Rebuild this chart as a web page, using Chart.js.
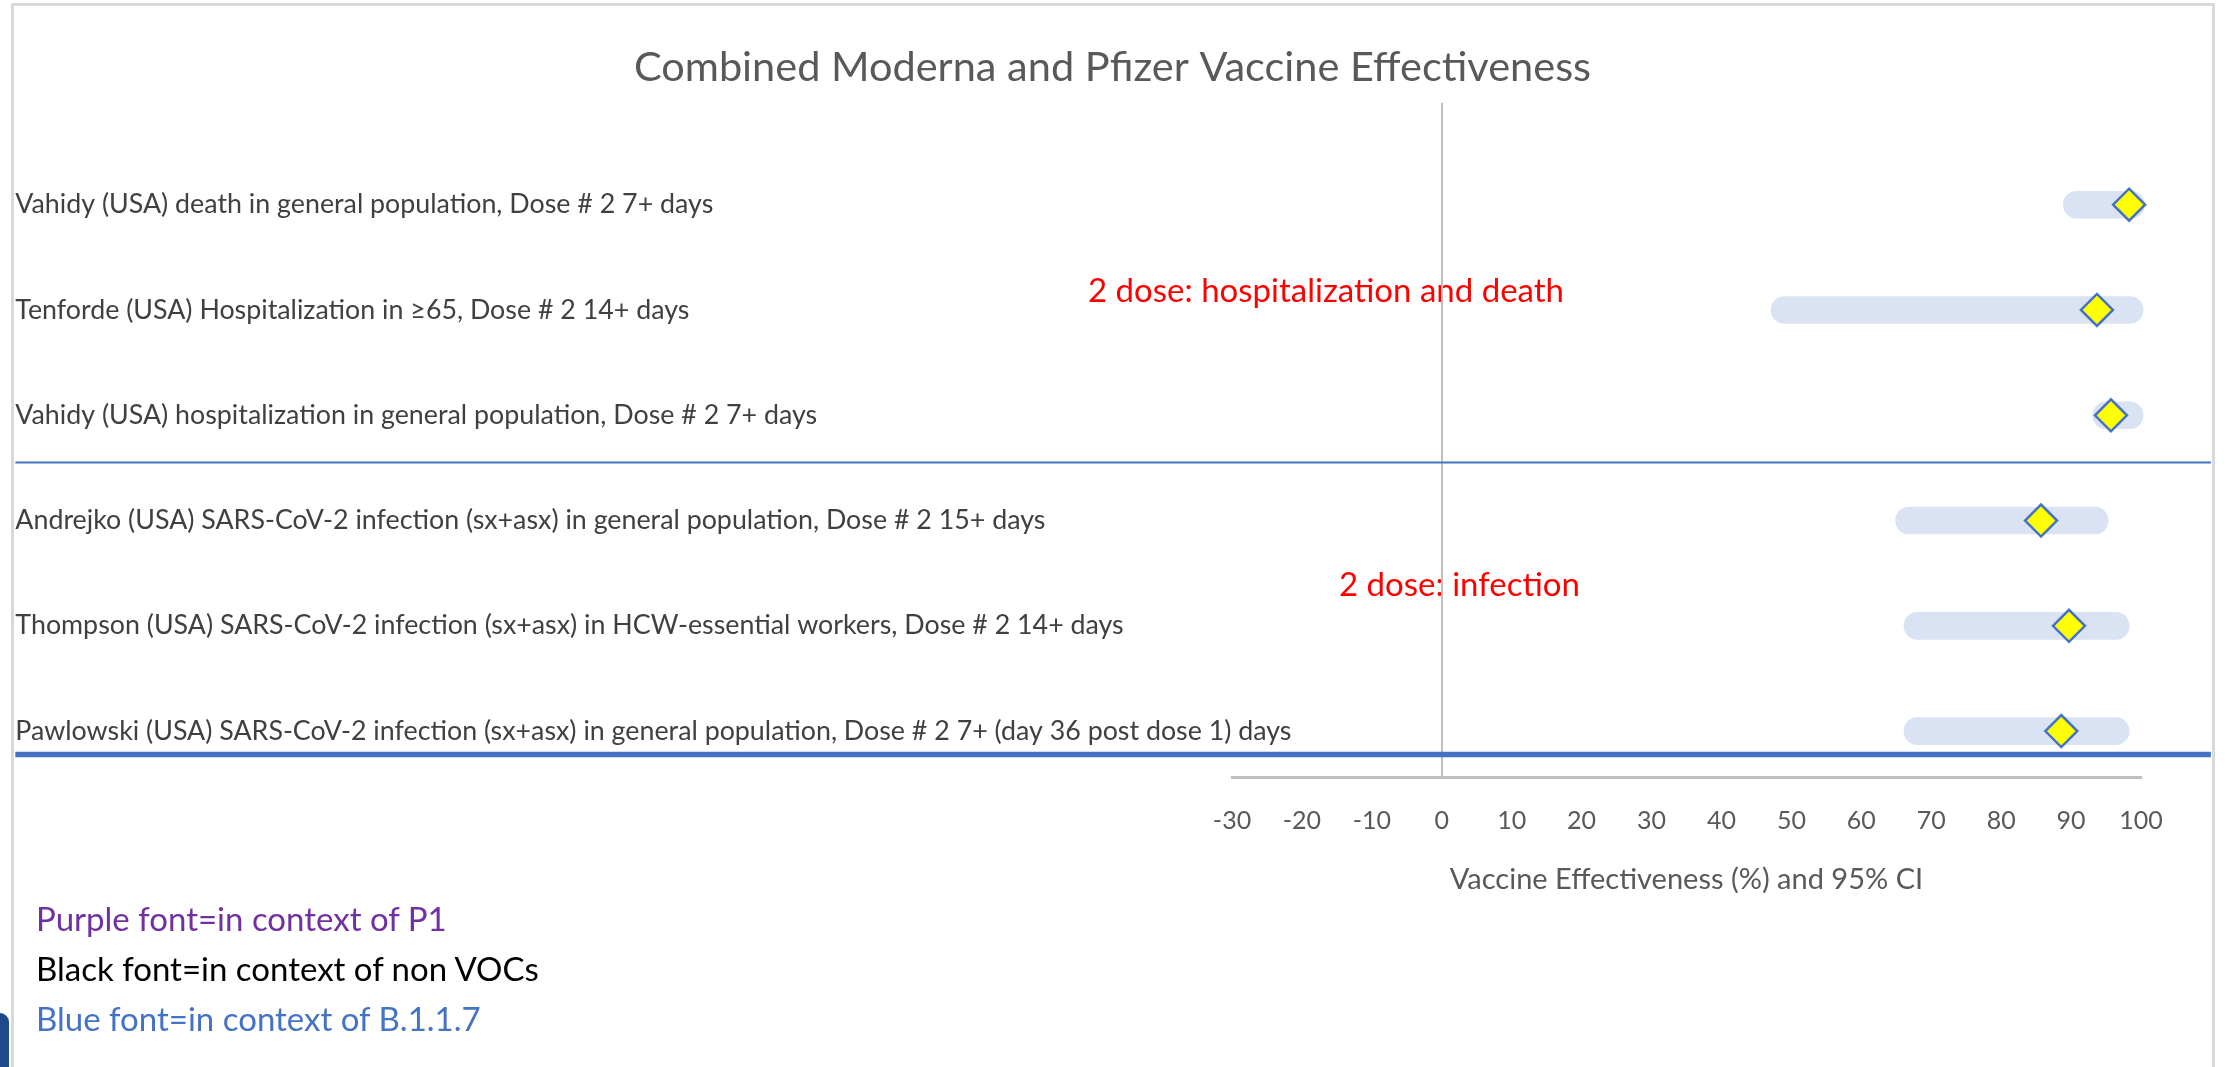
<!DOCTYPE html>
<html lang="en">
<head>
    <meta charset="UTF-8">
    <title>Combined Moderna and Pfizer Vaccine Effectiveness</title>
    <script src="https://cdn.jsdelivr.net/npm/chart.js"></script>
    <style>
        * {
            margin: 0;
            padding: 0;
            box-sizing: border-box;
        }

        html, body {
            width: 2225px;
            height: 1067px;
            overflow: hidden;
            background: #fff;
        }

        .frame {
            position: absolute;
            left: 11px;
            top: 3px;
            width: 2204px;
            height: 1200px;
            border: 3px solid #d9d9d9;
        }

        .chart-box {
            position: absolute;
            left: 0;
            top: 0;
            width: 2225px;
            height: 1067px;
        }

        .notes {
            position: absolute;
            left: 36px;
            top: 893px;
            font-family: Lato, sans-serif;
            font-size: 33px;
            line-height: 50px;
        }

        .tab {
            position: absolute;
            left: 0;
            top: 1013px;
            width: 9px;
            height: 80px;
            background: #1f4a8a;
            border-top-right-radius: 14px;
        }
    </style>
</head>
<body>
    <div class="frame"></div>
    <div class="chart-box">
        <canvas id="myChart"></canvas>
    </div>
    <div class="notes">
        <div style="color:#7030a0">Purple font=in context of P1</div>
        <div style="color:#000000">Black font=in context of non VOCs</div>
        <div style="color:#4472c4">Blue font=in context of B.1.1.7</div>
    </div>
    <div class="tab"></div>

    <script>
        // studies, top to bottom
        var studies = [
            'Vahidy (USA) death in general population, Dose # 2 7+ days',
            'Tenforde (USA) Hospitalization in \u226565, Dose # 2 14+ days',
            'Vahidy (USA) hospitalization in general population, Dose # 2 7+ days',
            'Andrejko (USA) SARS-CoV-2 infection (sx+asx) in general population, Dose # 2 15+ days',
            'Thompson (USA) SARS-CoV-2 infection (sx+asx) in HCW-essential workers, Dose # 2 14+ days',
            'Pawlowski (USA) SARS-CoV-2 infection (sx+asx) in general population, Dose # 2 7+ (day 36 post dose 1) days'
        ];
        var rowPos = [6, 5, 4, 3, 2, 1];

        // VE estimate and the drawn extent of the 95% CI band
        var estimate = [98.3, 93.7, 95.7, 85.7, 89.7, 88.6];
        var ciLow = [88.9, 47.1, 93.1, 64.9, 66.1, 66.1];
        var ciHigh = [100.5, 100.3, 100.3, 95.3, 98.3, 98.3];

        var xMin = -30, xMax = 100, xStep = 10;

        // group notes (red text), anchored in data units
        var groupNotes = ['2 dose: hospitalization and death', '2 dose: infection'];
        var groupNoteX = [-50.6, -14.7];
        var groupNoteY = [5.175, 2.385];

        // horizontal separators between the groups
        var separatorY = [3.552, 0.777];
        var separatorWidth = [2, 5.5];
        var separatorFrom = -204, separatorTo = 110;
        var labelAnchorX = -204;

        var textPlugin = {
            id: 'rowText',
            beforeDraw: function(chart) {
                var ctx = chart.ctx;
                var x = chart.scales.x, y = chart.scales.y;
                ctx.save();
                ctx.textAlign = 'left';
                ctx.textBaseline = 'middle';
                ctx.font = '26.8px Lato';
                ctx.fillStyle = '#404040';
                for (var i = 0; i < studies.length; i++) {
                    ctx.fillText(studies[i], x.getPixelForValue(labelAnchorX), y.getPixelForValue(rowPos[i]));
                }
                ctx.font = '33px Lato';
                ctx.fillStyle = '#ff0000';
                for (var j = 0; j < groupNotes.length; j++) {
                    ctx.fillText(groupNotes[j], x.getPixelForValue(groupNoteX[j]), y.getPixelForValue(groupNoteY[j]));
                }
                ctx.restore();
            }
        };

        var datasets = [];
        // diamonds on top (lowest order is drawn last)
        datasets.push({
            type: 'scatter',
            order: 0,
            data: rowPos.map(function(p, i) { return {x: estimate[i], y: p}; }),
            pointStyle: 'rectRot',
            pointRadius: 16,
            pointBackgroundColor: '#ffff00',
            pointBorderColor: '#4472c4',
            pointBorderWidth: 2.5,
            clip: false
        });
        datasets.push({
            type: 'bar',
            order: 1,
            indexAxis: 'y',
            data: rowPos.map(function(p, i) { return {x: [ciLow[i], ciHigh[i]], y: p}; }),
            backgroundColor: '#dae3f3',
            barThickness: 27,
            borderRadius: 14,
            borderSkipped: false,
            clip: false
        });
        for (var k = 0; k < separatorY.length; k++) {
            datasets.push({
                type: 'line',
                order: 2,
                data: [{x: separatorFrom, y: separatorY[k]}, {x: separatorTo, y: separatorY[k]}],
                borderColor: '#4472c4',
                borderWidth: separatorWidth[k],
                pointRadius: 0,
                clip: false
            });
        }

        var ctx = document.getElementById('myChart').getContext('2d');
        var myChart = new Chart(ctx, {
            type: 'scatter',
            data: { datasets: datasets },
            plugins: [textPlugin],
            options: {
                responsive: true,
                maintainAspectRatio: false,
                animation: false,
                events: [],
                layout: {
                    padding: { top: 43, bottom: 173, left: 0, right: 0 }
                },
                plugins: {
                    legend: { display: false },
                    tooltip: { enabled: false },
                    title: {
                        display: true,
                        text: 'Combined Moderna and Pfizer Vaccine Effectiveness',
                        color: '#595959',
                        font: { family: 'Lato', size: 41.5, weight: 'normal' },
                        padding: { top: 0, bottom: 10 }
                    }
                },
                scales: {
                    x: {
                        type: 'linear',
                        min: xMin,
                        max: xMax,
                        offset: false,
                        ticks: {
                            stepSize: xStep,
                            color: '#595959',
                            padding: 29,
                            font: { family: 'Lato', size: 25 }
                        },
                        grid: {
                            drawTicks: false,
                            offset: false,
                            lineWidth: 2,
                            color: function(c) {
                                return c.tick && c.tick.value === 0 ? '#bfbfbf' : 'rgba(0,0,0,0)';
                            }
                        },
                        border: { color: '#bfbfbf', width: 3 },
                        title: {
                            display: true,
                            text: 'Vaccine Effectiveness (%) and 95% CI',
                            color: '#595959',
                            font: { family: 'Lato', size: 29, lineHeight: 1 },
                            padding: { top: 0, bottom: 0 }
                        }
                    },
                    y: {
                        type: 'linear',
                        position: 'left',
                        min: 0.564,
                        max: 6.968,
                        offset: false,
                        ticks: { display: false },
                        grid: { display: false, offset: false },
                        border: { display: false },
                        afterFit: function(scale) { scale.width = 1232; }
                    },
                    yRight: {
                        type: 'linear',
                        position: 'right',
                        ticks: { display: false },
                        grid: { display: false },
                        border: { display: false },
                        afterFit: function(scale) { scale.width = 84; }
                    }
                }
            }
        });
    </script>
</body>
</html>
